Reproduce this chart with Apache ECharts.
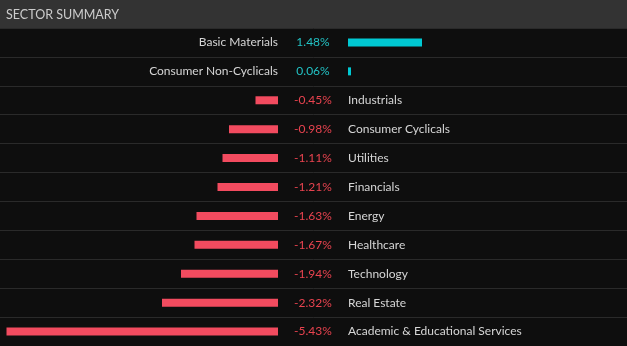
<!DOCTYPE html>
<html>
<head>
<meta charset="utf-8">
<script src="https://cdn.jsdelivr.net/npm/echarts@6/dist/echarts.min.js"></script>
<style>
html,body{margin:0;padding:0;background:#0e0e0e;}
#chart{width:627px;height:346px;}
</style>
</head>
<body>
<div id="chart"></div>
<script>
var titleText = 'SECTOR SUMMARY';
var sectors = ['Basic Materials','Consumer Non-Cyclicals','Industrials','Consumer Cyclicals','Utilities','Financials','Energy','Healthcare','Technology','Real Estate','Academic & Educational Services'];
var changes = [1.48, 0.06, -0.45, -0.98, -1.11, -1.21, -1.63, -1.67, -1.94, -2.32, -5.43];

var FONT = 'Lato, "Noto Sans", sans-serif';
var posColor = '#00c9d3';
var negColor = '#f24b5f';
var posText = '#22c2c4';
var negText = '#e8434f';
var nameText = '#d6d6d6';

function fmt(v){ return v.toFixed(2) + '%'; }

var negData = changes.map(function(v){ return v < 0 ? v : '-'; });
var posData = changes.map(function(v){ return v >= 0 ? v : '-'; });

var chart = echarts.init(document.getElementById('chart'), null, {renderer:'canvas'});
var catAxis = function(gi, split){
  return {type:'category', gridIndex:gi, data:sectors, inverse:true,
    axisLine:{show:false}, axisTick:{show:false}, axisLabel:{show:false},
    splitLine:{show:split, lineStyle:{color:'#2a2a2a', width:1}}};
};
chart.setOption({
  backgroundColor:'#0e0e0e',
  animation:false,
  graphic:[{type:'rect', shape:{x:0,y:0,width:627,height:28}, style:{fill:'#333333'}, z:-1}],
  title:{text:titleText, left:6, top:8, padding:0, textStyle:{color:'#cccccc', fontSize:12.5, fontWeight:'normal', fontFamily:FONT, lineHeight:13}},
  grid:[
    {left:0, width:278, top:28, bottom:0},
    {left:348, right:0, top:28, bottom:0},
    {left:0, right:0, top:28, bottom:0}
  ],
  xAxis:[
    {type:'value', gridIndex:0, min:-5.56, max:0, show:false},
    {type:'value', gridIndex:1, min:0, max:5.58, show:false},
    {type:'value', gridIndex:2, min:0, max:1, show:false}
  ],
  yAxis:[catAxis(0,false), catAxis(1,false), catAxis(2,true)],
  series:[
    {type:'bar', xAxisIndex:0, yAxisIndex:0, data:negData, barWidth:8,
      itemStyle:{color:negColor},
      label:{show:true, position:'right', distance:0,
        formatter:function(p){ return '{v|' + fmt(p.value) + '}{n|' + sectors[p.dataIndex] + '}'; },
        rich:{
          v:{width:70, align:'center', color:negText, fontSize:12, fontFamily:FONT},
          n:{align:'left', color:nameText, fontSize:12, fontFamily:FONT}
        }}},
    {type:'bar', xAxisIndex:1, yAxisIndex:1, data:posData, barWidth:8,
      itemStyle:{color:posColor},
      label:{show:true, position:'left', distance:0,
        formatter:function(p){ return '{n|' + sectors[p.dataIndex] + '}{v|' + fmt(p.value) + '}'; },
        rich:{
          v:{width:70, align:'center', color:posText, fontSize:12, fontFamily:FONT},
          n:{align:'right', color:nameText, fontSize:12, fontFamily:FONT}
        }}}
  ]
});
</script>
</body>
</html>
